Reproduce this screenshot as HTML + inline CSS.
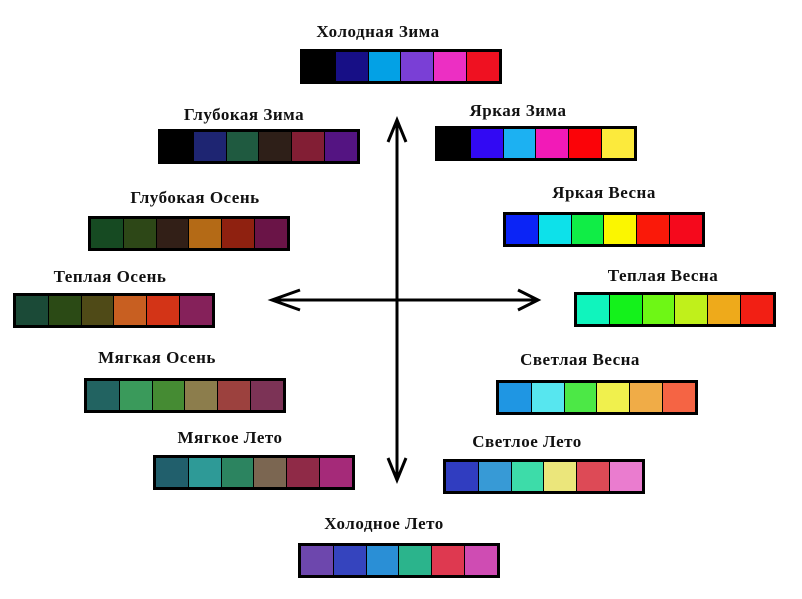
<!DOCTYPE html>
<html><head><meta charset="utf-8"><style>
body{margin:0;width:802px;height:599px;background:#fff;position:relative;overflow:hidden;font-family:"Liberation Serif","DejaVu Serif",serif}
.p{position:absolute;width:196px;height:29px;border:3px solid #000;background:#000;display:flex;gap:1px}
.p i{flex:1;display:block}
.l{position:absolute;font-weight:bold;font-size:17px;color:#111;transform:translateX(-50%);white-space:nowrap;letter-spacing:0.5px}
</style></head><body>
<svg width="802" height="599" style="position:absolute;left:0;top:0">
<g stroke="#000" stroke-width="3" fill="none">
<line x1="397" y1="120" x2="397" y2="480"/>
<polyline points="388,142 397,120 406,142"/>
<polyline points="388,458 397,480 406,458"/>
<line x1="272" y1="300" x2="538" y2="300"/>
<polyline points="300,290 272,300 300,310"/>
<polyline points="518,290 538,300 518,310"/>
</g></svg>

<div class="l" style="left:378px;top:22px">Холодная Зима</div>
<div class="p" style="left:300px;top:49px"><i style="background:#000"></i><i style="background:#170f86"></i><i style="background:#03a1e5"></i><i style="background:#7a3fd6"></i><i style="background:#ec2fc3"></i><i style="background:#ef1121"></i></div>

<div class="l" style="left:244px;top:105px">Глубокая Зима</div>
<div class="p" style="left:158px;top:129px"><i style="background:#000"></i><i style="background:#1e2572"></i><i style="background:#1f5a40"></i><i style="background:#2e1f18"></i><i style="background:#821e34"></i><i style="background:#541482"></i></div>

<div class="l" style="left:518px;top:101px">Яркая Зима</div>
<div class="p" style="left:435px;top:126px"><i style="background:#000"></i><i style="background:#3209f3"></i><i style="background:#1cb1f2"></i><i style="background:#f21ab7"></i><i style="background:#fb0308"></i><i style="background:#fcea3c"></i></div>

<div class="l" style="left:195px;top:188px">Глубокая Осень</div>
<div class="p" style="left:88px;top:216px"><i style="background:#164a22"></i><i style="background:#2d4717"></i><i style="background:#321f17"></i><i style="background:#b46a16"></i><i style="background:#8f2110"></i><i style="background:#6a1447"></i></div>

<div class="l" style="left:604px;top:183px">Яркая Весна</div>
<div class="p" style="left:503px;top:212px"><i style="background:#0b24f6"></i><i style="background:#0de1ea"></i><i style="background:#10ed46"></i><i style="background:#fbf600"></i><i style="background:#fa1909"></i><i style="background:#f5091c"></i></div>

<div class="l" style="left:110px;top:267px">Теплая Осень</div>
<div class="p" style="left:13px;top:293px"><i style="background:#1b4a37"></i><i style="background:#2b4a15"></i><i style="background:#4f4a17"></i><i style="background:#c85f21"></i><i style="background:#d33417"></i><i style="background:#85215a"></i></div>

<div class="l" style="left:663px;top:266px">Теплая Весна</div>
<div class="p" style="left:574px;top:292px"><i style="background:#10f4bd"></i><i style="background:#14f21b"></i><i style="background:#6ef715"></i><i style="background:#c0f01b"></i><i style="background:#eeaa1b"></i><i style="background:#f21f14"></i></div>

<div class="l" style="left:157px;top:348px">Мягкая Осень</div>
<div class="p" style="left:84px;top:378px"><i style="background:#226361"></i><i style="background:#3a9a5b"></i><i style="background:#458b33"></i><i style="background:#8c7d4c"></i><i style="background:#9c413e"></i><i style="background:#7c3356"></i></div>

<div class="l" style="left:580px;top:350px">Светлая Весна</div>
<div class="p" style="left:496px;top:380px"><i style="background:#1f96e3"></i><i style="background:#57e6ef"></i><i style="background:#4ce846"></i><i style="background:#f0f04d"></i><i style="background:#f0ac47"></i><i style="background:#f56444"></i></div>

<div class="l" style="left:230px;top:428px">Мягкое Лето</div>
<div class="p" style="left:153px;top:455px"><i style="background:#215f6c"></i><i style="background:#2e9a97"></i><i style="background:#2c8460"></i><i style="background:#7b6651"></i><i style="background:#8f2a47"></i><i style="background:#a52a79"></i></div>

<div class="l" style="left:527px;top:432px">Светлое Лето</div>
<div class="p" style="left:443px;top:459px"><i style="background:#303dc0"></i><i style="background:#379ad6"></i><i style="background:#3ddca9"></i><i style="background:#ebe67b"></i><i style="background:#dd4a56"></i><i style="background:#ea7ccf"></i></div>

<div class="l" style="left:384px;top:514px">Холодное Лето</div>
<div class="p" style="left:298px;top:543px"><i style="background:#6d47ad"></i><i style="background:#3544be"></i><i style="background:#2a8fd6"></i><i style="background:#2bb48c"></i><i style="background:#de3950"></i><i style="background:#cf4cb3"></i></div>
</body></html>
